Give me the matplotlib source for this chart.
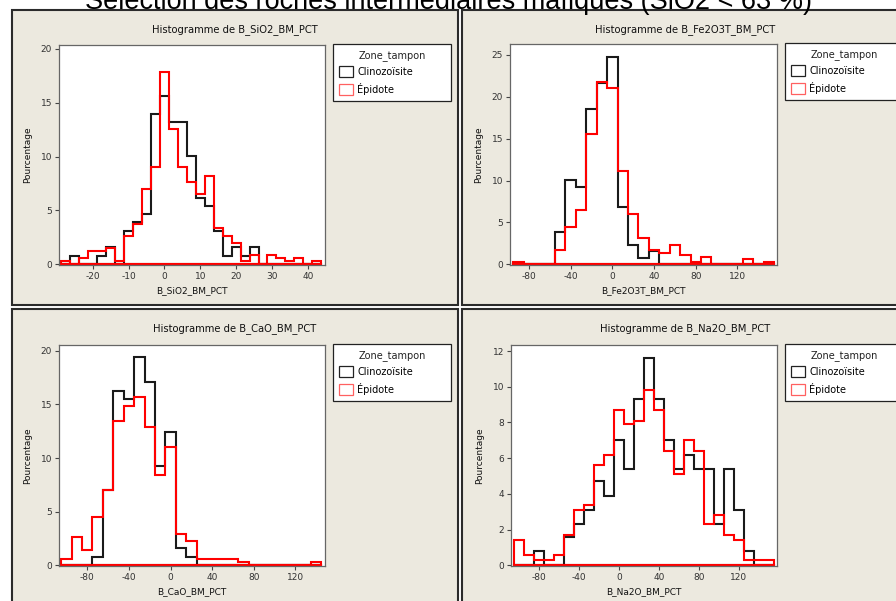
import matplotlib
matplotlib.use("Agg")
import matplotlib.pyplot as plt
from matplotlib.patches import Rectangle, Patch
import numpy as np

plt.rcParams["axes.unicode_minus"] = False

# pourcentages par classe, zone tampon clinozoisite / epidote
sio2_edges = np.arange(-28.75, 43.76, 2.5)
sio2_clino = [0, 0.8, 0, 0, 0.8, 1.6, 0, 3.1, 3.9, 4.7, 14.0, 15.6, 13.2, 13.2, 10.1,
              6.2, 5.4, 3.1, 0.8, 1.6, 0.8, 1.6, 0, 0, 0, 0, 0, 0, 0]
sio2_epid = [0.3, 0, 0.6, 1.2, 1.2, 1.5, 0.3, 2.6, 3.7, 7.0, 9.0, 17.9, 12.6, 9.0, 7.6,
             6.5, 8.2, 3.4, 2.6, 2.0, 0.3, 0.9, 0, 0.9, 0.6, 0.3, 0.6, 0, 0.3]

fe_edges = np.arange(-95, 156, 10)
fe_clino = [0, 0, 0, 0, 3.9, 10.1, 9.2, 18.6, 21.7, 24.8, 6.9, 2.3, 0.8, 1.6,
            0, 0, 0, 0, 0, 0, 0, 0, 0, 0, 0]
fe_epid = [0.3, 0, 0, 0, 1.7, 4.5, 6.5, 15.6, 21.8, 21.0, 11.2, 6.0, 3.1, 1.7,
           1.4, 2.3, 1.1, 0.3, 0.9, 0, 0, 0, 0.6, 0, 0.3]

cao_edges = np.arange(-105, 146, 10)
cao_clino = [0, 0, 0, 0.8, 7.0, 16.3, 15.5, 19.4, 17.1, 9.3, 12.4, 1.6, 0.8,
             0, 0, 0, 0, 0, 0, 0, 0, 0, 0, 0, 0]
cao_epid = [0.6, 2.6, 1.4, 4.5, 7.0, 13.5, 14.9, 15.7, 12.9, 8.4, 11.0, 2.9, 2.3,
            0.6, 0.6, 0.6, 0.6, 0.3, 0, 0, 0, 0, 0, 0, 0.3]

na_edges = np.arange(-105, 156, 10)
na_clino = [0, 0, 0.8, 0, 0, 1.6, 2.3, 3.1, 4.7, 3.9, 7.0, 5.4, 9.3, 11.6, 9.3,
            7.0, 5.4, 6.2, 5.4, 5.4, 2.3, 5.4, 3.1, 0.8, 0, 0]
na_epid = [1.4, 0.6, 0.3, 0.3, 0.6, 1.7, 3.1, 3.4, 5.6, 6.2, 8.7, 7.9, 8.1, 9.8, 8.7,
           6.4, 5.1, 7.0, 6.4, 2.3, 2.8, 1.7, 1.4, 0.3, 0.3, 0.3]

variables = ["B_SiO2_BM_PCT", "B_Fe2O3T_BM_PCT", "B_CaO_BM_PCT", "B_Na2O_BM_PCT"]
groups = ["Clinozoïsite", "Épidote"]

W, H = 896, 601
BG = "#ECE9DF"


def fx(px):
    return px / W


def fy(py):
    return 1 - py / H


fig = plt.figure(figsize=(W / 100, H / 100), dpi=100)
fig.patch.set_facecolor("white")

fig.text(0.5, fy(9), "Sélection des roches intermédiaires mafiques (SiO2 < 63 %)",
         ha="center", va="baseline", fontsize=19.5, family="Liberation Sans")

panels = [
    # panneau (x0, y0, x1, y1), axes (gauche, haut, droite, bas), xlim, ylim, xticks, yticks
    dict(box=(12, 10, 458, 305), ax=(59, 45, 325, 265), xlim=(-29.4, 44.8), ylim=(-0.07, 20.37),
         xt=np.arange(-20, 41, 10), yt=np.arange(0, 21, 5),
         edges=sio2_edges, data=(sio2_clino, sio2_epid)),
    dict(box=(462, 10, 908, 305), ax=(510, 44, 777, 265), xlim=(-98.1, 157.9), ylim=(-0.08, 26.3),
         xt=np.arange(-80, 121, 40), yt=np.arange(0, 26, 5),
         edges=fe_edges, data=(fe_clino, fe_epid)),
    dict(box=(12, 309, 458, 610), ax=(59, 345, 325, 566), xlim=(-107.2, 148.5), ylim=(-0.07, 20.55),
         xt=np.arange(-80, 121, 40), yt=np.arange(0, 21, 5),
         edges=cao_edges, data=(cao_clino, cao_epid)),
    dict(box=(462, 309, 908, 610), ax=(511, 345, 777, 566), xlim=(-107.7, 158.0), ylim=(-0.04, 12.34),
         xt=np.arange(-80, 121, 40), yt=np.arange(0, 13, 2),
         edges=na_edges, data=(na_clino, na_epid)),
]

colors = ["#1a1a1a", "#ff0000"]

for name, p in zip(variables, panels):
    x0, y0, x1, y1 = p["box"]
    fig.add_artist(Rectangle((fx(x0), fy(y1)), fx(x1 - x0), (y1 - y0) / H,
                             transform=fig.transFigure, facecolor=BG,
                             edgecolor="#2b2b2b", linewidth=1.5, zorder=0))
    fig.text(fx((x0 + x1) / 2), fy(y0 + 20), "Histogramme de " + name, ha="center", va="center",
             fontsize=7.2, color="#111111", family="DejaVu Sans")

    l, t, r, b = p["ax"]
    ax = fig.add_axes([fx(l), fy(b), fx(r - l), (b - t) / H])
    ax.set_facecolor("white")
    for values, c in zip(p["data"], colors):
        edges = p["edges"]
        ax.stairs(values, edges, color=c, linewidth=1.5)
        ax.plot([edges[0], edges[-1]], [0, 0], color=c, linewidth=1.5)
    ax.set_xlim(*p["xlim"])
    ax.set_ylim(*p["ylim"])
    ax.set_xticks(p["xt"])
    ax.set_yticks(p["yt"])
    ax.tick_params(direction="out", length=3, width=0.8, labelsize=6.5,
                   colors="#444444", labelcolor="#333333", pad=2)
    for s in ax.spines.values():
        s.set_color("#666666")
        s.set_linewidth(0.9)
    ax.set_xlabel(name, fontsize=6.5, color="#111111", labelpad=4)
    ax.set_ylabel("Pourcentage", fontsize=6.5, color="#111111", labelpad=6)

    handles = [Patch(facecolor="white", edgecolor=c, linewidth=0.9) for c in ["#222222", "#ff6060"]]
    leg = fig.legend(handles, groups, title="Zone_tampon", loc="upper left",
                     bbox_to_anchor=(fx(r + 8), fy(t - 1), fx(118), 0), mode="expand",
                     fontsize=7, title_fontsize=7, frameon=True, fancybox=False, framealpha=1,
                     borderpad=0.6, labelspacing=0.55, handlelength=1.5, handleheight=1.4,
                     handletextpad=0.4, borderaxespad=0)
    leg.get_frame().set_edgecolor("#222222")
    leg.get_frame().set_facecolor("white")
    leg.get_frame().set_linewidth(0.9)
    leg.get_title().set_color("#222222")

fig.savefig("out.png", dpi=100, facecolor=fig.get_facecolor())
